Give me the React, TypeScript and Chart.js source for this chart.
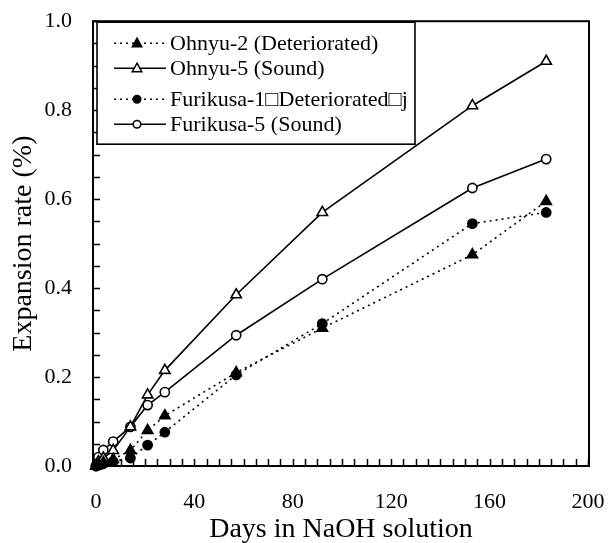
import { useEffect, useRef } from "react";
import { Chart, registerables } from "chart.js";

Chart.register(...registerables);

// Days in NaOH solution (x values)
const days = [0, 1, 3, 7, 14, 21, 28, 57, 92, 153, 183];

// Expansion rate (%) per series
const ohnyu2 = [0, 0.003, 0.008, 0.015, 0.035, 0.08, 0.113, 0.21, 0.31, 0.475, 0.595];
const ohnyu5 = [0, 0.01, 0.018, 0.035, 0.088, 0.16, 0.215, 0.385, 0.57, 0.81, 0.91];
const furikusa1 = [0, 0.002, 0.005, 0.01, 0.018, 0.047, 0.076, 0.205, 0.32, 0.545, 0.57];
const furikusa5 = [0, 0.02, 0.036, 0.055, 0.088, 0.137, 0.166, 0.294, 0.42, 0.625, 0.69];

const seriesLabels = [
  "Ohnyu-2 (Deteriorated)",
  "Ohnyu-5 (Sound)",
  "Furikusa-1\u25A1Deteriorated\u25A1j",
  "Furikusa-5 (Sound)",
];

const xTickValues = [0, 40, 80, 120, 160, 200];
const yTickValues = [0, 0.2, 0.4, 0.6, 0.8, 1.0];
const xMinorStep = 5;
const yMinorStep = 0.05;

const xTitle = "Days in NaOH solution";
const yTitle = "Expansion rate (%)";

const FONT = "'Liberation Serif', 'Times New Roman', 'DejaVu Serif', serif";

const SHIFT = 13;

export default function App() {
  const ref = useRef<HTMLCanvasElement>(null);

  useEffect(() => {
    const canvas = ref.current;
    if (!canvas) return;

    const styles = [
      { pointStyle: "triangle", filled: true, dashed: true },
      { pointStyle: "triangle", filled: false, dashed: false },
      { pointStyle: "circle", filled: true, dashed: true },
      { pointStyle: "circle", filled: false, dashed: false },
    ];
    const seriesValues = [ohnyu2, ohnyu5, furikusa1, furikusa5];

    const datasets = seriesValues.map((vals, i) => {
      const st = styles[i];
      return {
        label: seriesLabels[i],
        data: days.map((d, j) => ({ x: d, y: vals[j] })),
        borderColor: "#000",
        borderWidth: 1.6,
        borderDash: st.dashed ? [2, 4] : [],
        pointStyle: st.pointStyle,
        pointRadius: st.pointStyle === "triangle" ? 6 : 4.6,
        pointBackgroundColor: st.filled ? "#000" : "#fff",
        pointBorderColor: "#000",
        pointBorderWidth: 1.6,
        tension: 0,
        fill: false,
        clip: false as any,
      };
    });

    const framePlugin = {
      id: "frameTicksLegend",
      afterDraw(chart: any) {
        const ctx = chart.ctx;
        const xs = chart.scales.x;
        const ys = chart.scales.y;
        const { left, right, top, bottom } = chart.chartArea;
        ctx.save();
        ctx.strokeStyle = "#000";
        ctx.setLineDash([]);
        // frame
        ctx.lineWidth = 2;
        ctx.strokeRect(left, top, right - left, bottom - top);
        // inward minor ticks
        ctx.lineWidth = 1.5;
        ctx.beginPath();
        for (let v = 0; v <= 200 + 1e-9; v += xMinorStep) {
          const px = Math.round(xs.getPixelForValue(v)) + 0.5;
          ctx.moveTo(px, bottom);
          ctx.lineTo(px, bottom - 7);
        }
        for (let k = 0; k <= 20; k++) {
          const v = k * yMinorStep;
          const py = Math.round(ys.getPixelForValue(v)) + 0.5;
          ctx.moveTo(left, py);
          ctx.lineTo(left + 7, py);
        }
        ctx.stroke();

        // legend box (placed relative to the plot's top-left corner)
        const bx = left + 4, by = top + 1, bw = 318, bh = 122;
        ctx.fillStyle = "#fff";
        ctx.fillRect(bx, by, bw, bh);
        ctx.lineWidth = 1.6;
        ctx.strokeRect(bx, by, bw, bh);
        const rowOffsets = [22, 47, 78, 103];
        ctx.font = `22px ${FONT}`;
        ctx.textBaseline = "middle";
        ctx.textAlign = "left";
        rowOffsets.forEach((off, i) => {
          const ry = top + off;
          const st = styles[i];
          ctx.lineWidth = 1.5;
          ctx.setLineDash(st.dashed ? [2, 4] : []);
          ctx.beginPath();
          ctx.moveTo(left + 21, ry);
          ctx.lineTo(left + 73, ry);
          ctx.stroke();
          ctx.setLineDash([]);
          const mx = left + 44;
          ctx.beginPath();
          if (st.pointStyle === "triangle") {
            const r = 5;
            ctx.moveTo(mx, ry - r);
            ctx.lineTo(mx + r * 0.95, ry + r * 0.7);
            ctx.lineTo(mx - r * 0.95, ry + r * 0.7);
            ctx.closePath();
          } else {
            ctx.arc(mx, ry, 3.8, 0, Math.PI * 2);
          }
          ctx.fillStyle = st.filled ? "#000" : "#fff";
          ctx.fill();
          ctx.stroke();
          ctx.fillStyle = "#000";
          ctx.fillText(seriesLabels[i], left + 77, ry + 1);
        });
        ctx.restore();
      },
    };

    const chart = new Chart(canvas, {
      type: "line",
      data: { datasets: datasets as any },
      options: {
        animation: false,
        responsive: false,
        maintainAspectRatio: false,
        layout: { padding: { left: 0, right: 20, top: 8, bottom: 0 } },
        plugins: {
          legend: { display: false },
          tooltip: { enabled: false },
        },
        scales: {
          x: {
            type: "linear",
            min: -1.2,
            max: 200.4,
            afterBuildTicks: (s: any) => {
              s.ticks = xTickValues.map((v) => ({ value: v }));
            },
            afterFit: (s: any) => {
              s.height = 77;
            },
            grid: { display: false, drawTicks: false },
            border: { display: false },
            ticks: {
              color: "#000",
              font: { family: FONT, size: 22, lineHeight: 1.1 },
              padding: 0,
              maxRotation: 0,
              autoSkip: false,
              callback: (v: any) => ["", String(v)],
            },
            title: {
              display: true,
              text: xTitle,
              color: "#000",
              font: { family: FONT, size: 28 },
              padding: { top: 0, bottom: -3 },
            },
          },
          y: {
            type: "linear",
            min: 0,
            max: 1.0,
            afterBuildTicks: (s: any) => {
              s.ticks = yTickValues.map((v) => ({ value: v }));
            },
            afterFit: (s: any) => {
              s.width = 93;
            },
            grid: { display: false, drawTicks: false },
            border: { display: false },
            ticks: {
              color: "#000",
              font: { family: FONT, size: 22 },
              padding: 21,
              autoSkip: false,
              callback: (v: any) => Number(v).toFixed(1),
            },
            title: {
              display: true,
              text: yTitle,
              color: "#000",
              font: { family: FONT, size: 28 },
              padding: { top: 7, bottom: 0 },
            },
          },
        },
      },
      plugins: [framePlugin],
    });

    return () => chart.destroy();
  }, []);

  return (
    <div
      style={{
        position: "fixed",
        left: 0,
        top: -SHIFT,
        width: 609,
        height: 543 + SHIFT,
        background: "#fff",
      }}
    >
      <canvas ref={ref} width={609} height={543 + SHIFT} style={{ display: "block" }} />
    </div>
  );
}
